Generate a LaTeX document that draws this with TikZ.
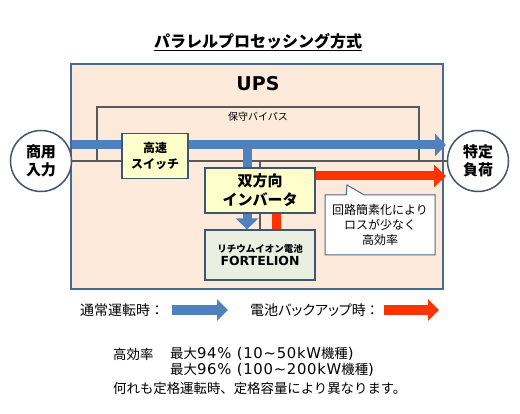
\documentclass[tikz,border=0pt]{standalone}
\usepackage{fontspec}
\setmainfont{Noto Sans CJK JP}
\newfontfamily\propjp{Noto Sans CJK JP}[RawFeature=+palt]
\newfontfamily\latin{DejaVu Sans}[LetterSpace=5]
\newfontfamily\latinbold{DejaVu Sans Bold}
\usepackage{xcolor}
\definecolor{upspeach}{RGB}{253,234,218}
\definecolor{upsedge}{RGB}{72,106,146}
\definecolor{boxedge}{RGB}{62,86,116}
\definecolor{flowblue}{RGB}{79,129,189}
\definecolor{backred}{RGB}{255,51,0}
\definecolor{linegrey}{RGB}{89,89,89}
\definecolor{swyellow}{RGB}{255,255,204}
\definecolor{battgrey}{RGB}{235,239,226}
\usepackage{tikz}
\usetikzlibrary{arrows.meta,positioning,calc,shapes.callouts}
\tikzset{
  upsbox/.style={draw=upsedge, line width=1.5pt, fill=upspeach, minimum width=372pt, minimum height=225pt},
  endcirc/.style={draw=boxedge, line width=1.5pt, fill=white, circle, minimum size=61pt, inner sep=0pt, align=center, font=\fontsize{15pt}{18pt}\selectfont\bfseries},
  unit/.style={draw=boxedge, line width=1.2pt, fill=swyellow, align=center, inner sep=0pt},
  battbox/.style={draw=boxedge, line width=1.2pt, fill=battgrey, align=center, inner sep=0pt, minimum width=110pt, minimum height=50pt},
  notebox/.style={rectangle callout, draw=upsedge, line width=1pt, fill=white, align=center, minimum width=110pt, minimum height=60pt, font=\fontsize{12pt}{15pt}\selectfont},
  mainline/.style={draw=linegrey, line width=2.2pt},
  bypass/.style={draw=linegrey, line width=2.6pt},
  normflow/.style={draw=flowblue, line width=9pt},
  normarr/.style={normflow, -{Triangle[length=11pt,width=22pt]}},
  backflow/.style={draw=backred, line width=9pt},
  backarr/.style={backflow, -{Triangle[length=12pt,width=22pt]}},
  lbl/.style={anchor=west, inner sep=0pt, font=\fontsize{14pt}{17pt}\selectfont},
  txt/.style={anchor=west, inner sep=0pt, font=\fontsize{13.4pt}{16pt}\selectfont}
}
\newcommand\lat[1]{{\latin\fontsize{14.8pt}{16pt}\selectfont #1}}
\begin{document}
\begin{tikzpicture}[x=1pt, y=-1pt]
  \useasboundingbox (0,0) rectangle (520,414);
  \node[font=\fontsize{16pt}{19pt}\selectfont\bfseries] (title) at (258,42) {\underline{パラレルプロセッシング方式}};
  \node[upsbox] (ups) at (257,176.5) {};
  \node[font=\latinbold\fontsize{19pt}{22pt}\selectfont] (upslbl) at (258,84) {UPS};
  \node[endcirc] (incirc) at (41,161) {商用\\入力};
  \node[endcirc] (outcirc) at (478,161) {特定\\負荷};
  % bypass and main line
  \coordinate (bpl) at (97,161);
  \coordinate (bpr) at (419,161);
  \draw[bypass] (bpl) |- (419,107) -- (bpr);
  \node[font=\fontsize{10pt}{12pt}\selectfont] (bplbl) at (258,117) {保守バイパス};
  \draw[mainline] (incirc.east) -- (outcirc.west);
  % normal flow
  \coordinate (nin) at (72,145);
  \coordinate (nout) at (446,145);
  \coordinate (tap) at (247,145);
  \draw[normarr] (nin) -- (nout);
  \node[unit, minimum width=66pt, minimum height=45pt, font=\fontsize{12pt}{16pt}\selectfont\bfseries] (hsw) at (155,156) {高速\\スイッチ};
  \node[unit, minimum width=110pt, minimum height=45pt, font=\fontsize{15pt}{19pt}\selectfont\bfseries] (inv) at (260,190.5) {双方向\\インバータ};
  \node[battbox] (batt) at (260,255) {{\fontsize{9.5pt}{12pt}\selectfont\bfseries リチウムイオン電池}\\[1pt]{\latinbold\fontsize{12.5pt}{14pt}\selectfont FORTELION}};
  \draw[mainline] (inv.north |- incirc.east) -- (inv.north);
  \draw[mainline] (inv.south) -- (batt.north);
  \draw[normflow] (tap) -- (tap |- inv.north);
  \draw[normarr] (tap |- inv.south) -- (tap |- batt.north);
  % backup flow
  \coordinate (rtap) at (276,0);
  \coordinate (bout) at (446,176);
  \draw[backflow] (rtap |- batt.north) -- (rtap |- inv.south);
  \draw[backarr] (inv.east |- bout) -- (bout);
  \node[notebox, callout absolute pointer={(347,185)}, callout pointer width=18pt] (note) at (380,225) {回路簡素化により\\ロスが少なく\\高効率};
  % legend
  \node[lbl] (normlbl) at (80,310) {通常運転時：};
  \node[lbl, font=\propjp\fontsize{14pt}{17pt}\selectfont] (backlbl) at (250,310) {電池バックアップ時\hspace{3pt}：};
  \coordinate (normkey) at (172,310);
  \coordinate (backkey) at (384,310);
  \draw[normflow, line width=10pt, -{Triangle[length=11pt,width=21pt]}] (normkey) -- ++(56,0);
  \draw[backflow, line width=10pt, -{Triangle[length=11pt,width=21pt]}] (backkey) -- ++(55,0);
  % efficiency notes
  \node[txt] (efflbl) at (113,354) {高効率};
  \node[txt] (eff1) at (170,354) {最大\lat{94\% (10\textasciitilde 50kW}機種\lat{)}};
  \node[txt] (eff2) at (170,370) {最大\lat{96\% (100\textasciitilde 200kW}機種\lat{)}};
  \node[txt] (eff3) at (113,388) {何れも定格運転時、定格容量により異なります。};
\end{tikzpicture}
\end{document}
